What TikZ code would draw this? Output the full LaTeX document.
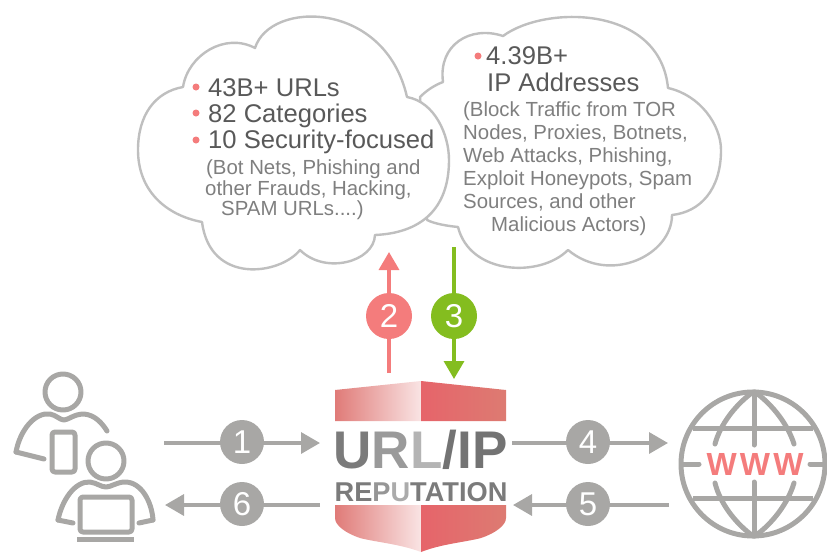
\documentclass[tikz,border=0pt]{standalone}
\usepackage{fontspec}
\setmainfont{Liberation Sans}
\newfontfamily\wwwfont[LetterSpace=10]{Liberation Sans}
\usetikzlibrary{arrows.meta}
\definecolor{cloudline}{HTML}{BFBFBF}
\definecolor{maintxt}{HTML}{595959}
\definecolor{subtxt}{HTML}{7F7F7F}
\definecolor{coral}{HTML}{F47C7C}
\definecolor{leaf}{HTML}{84BD1F}
\definecolor{stone}{HTML}{A8A7A5}
\definecolor{shA}{HTML}{E07B78}
\definecolor{shB}{HTML}{F9E4E4}
\definecolor{shC}{HTML}{E6646A}
\definecolor{shD}{HTML}{DD7B72}
\tikzset{
  cloudshape/.style={draw=cloudline,line width=2.4pt,fill=white,line join=round},
  headtxt/.style={anchor=base west,inner sep=0pt,text=maintxt,font=\fontsize{25.6}{26}\selectfont},
  subline/.style={anchor=base west,inner sep=0pt,text=subtxt,font=\fontsize{20.4}{22}\selectfont},
  bulletdot/.style={circle,fill=coral,inner sep=0pt,minimum size=7pt},
  numdot/.style={circle,inner sep=0pt,text=white,font=\fontsize{33}{34}\selectfont},
  graydot/.style={numdot,fill=stone,minimum size=44pt},
  upflow/.style={draw=coral,line width=3.4pt,-{Triangle[width=20pt,length=18pt]}},
  downflow/.style={draw=leaf,line width=3.4pt,-{Triangle[width=20pt,length=18pt]}},
  sideflow/.style={draw=stone,line width=3.4pt,-{Triangle[width=21pt,length=19pt]}},
  icon/.style={draw=stone,line width=5pt,line cap=round,line join=round},
}
\begin{document}
\begin{tikzpicture}[x=1pt,y=-1pt]
\useasboundingbox (0,0) rectangle (827,552);
% clouds
\draw[cloudshape] (420,97) .. controls (427,90) and (435,85) .. (443,82)
  .. controls (438,45) and (470,25) .. (503,36)
  .. controls (545,5) and (660,5) .. (668,88)
  .. controls (700,95) and (721,125) .. (721,150)
  .. controls (721,190) and (700,212) .. (672,215)
  .. controls (672,255) and (610,285) .. (568,250)
  .. controls (540,278) and (470,275) .. (458,227)
  .. controls (448,226) and (435,224) .. (427,220) -- cycle;
\draw[cloudshape] (183,87) .. controls (188,55) and (225,32) .. (255,48)
  .. controls (270,0) and (385,0) .. (407,97)
  .. controls (435,102) and (449,135) .. (449,160)
  .. controls (449,210) and (420,233) .. (375,235)
  .. controls (374,262) and (325,275) .. (300,250)
  .. controls (280,275) and (210,285) .. (202,222)
  .. controls (165,215) and (138,190) .. (138,150)
  .. controls (138,115) and (155,92) .. (183,87) -- cycle;
% left cloud text
\node[bulletdot] (b1) at (196,87) {};
\node[bulletdot] (b2) at (196,113) {};
\node[bulletdot] (b3) at (196,140) {};
\node[headtxt] (t1) at (208,96) {43B+ URLs};
\node[headtxt] (t2) at (208,122) {82 Categories};
\node[headtxt] (t3) at (208,148) {10 Security-focused};
\node[subline] (t4) at (206,174) {(Bot Nets, Phishing and};
\node[subline] (t5) at (205,195) {other Frauds, Hacking,};
\node[subline] (t6) at (221,215) {SPAM URLs....)};
% right cloud text
\node[bulletdot] (b4) at (478,56) {};
\node[headtxt] (r1) at (486,64) {4.39B+};
\node[headtxt] (r2) at (487,91) {IP Addresses};
\node[subline] (r3) at (463,116) {(Block Traffic from TOR};
\node[subline] (r4) at (463,139) {Nodes, Proxies, Botnets,};
\node[subline] (r5) at (463,162) {Web Attacks, Phishing,};
\node[subline] (r6) at (463,185) {Exploit Honeypots, Spam};
\node[subline] (r7) at (463,208) {Sources, and other};
\node[subline] (r8) at (491,231) {Malicious Actors)};
% flow ends
\coordinate (s2) at (389,373); \coordinate (e2) at (389,252);
\coordinate (s3) at (454,247); \coordinate (e3) at (454,379);
\coordinate (s1) at (164,443); \coordinate (e1) at (320,443);
\coordinate (s6) at (320,505); \coordinate (e6) at (165,505);
\coordinate (s4) at (512,443); \coordinate (e4) at (668,443);
\coordinate (s5) at (669,505); \coordinate (e5) at (513,505);
\draw[upflow] (s2) -- (e2);
\draw[downflow] (s3) -- (e3);
\draw[sideflow] (s1) -- (e1);
\draw[sideflow] (s6) -- (e6);
\draw[sideflow] (s4) -- (e4);
\draw[sideflow] (s5) -- (e5);
\node[numdot,fill=coral,minimum size=46pt] (n2) at (389,316) {2};
\node[numdot,fill=leaf,minimum size=46pt] (n3) at (454,316) {3};
\node[graydot] (n1) at (242,442) {1};
\node[graydot] (n6) at (242,504) {6};
\node[graydot] (n4) at (588,442) {4};
\node[graydot] (n5) at (588,504) {5};
% shield
\shade[left color=shA,right color=shB] (335,390) -- (421,381) -- (421,421) -- (335,421) -- cycle;
\shade[left color=shC,right color=shD] (421,381) -- (506,390) -- (506,421) -- (421,421) -- cycle;
\shade[left color=shA,right color=shB] (335,505) -- (421,505) -- (421,552) .. controls (400,544) and (375,542) .. (360,538) .. controls (345,533) and (335,525) .. (335,518) -- cycle;
\shade[left color=shC,right color=shD] (421,505) -- (506,505) -- (506,518) .. controls (506,525) and (496,533) .. (481,538) .. controls (466,542) and (441,544) .. (421,552) -- cycle;
\node[anchor=base,inner sep=0pt,font=\fontsize{53}{54}\selectfont\bfseries] (urlip) at (420.5,468)
  {\textcolor[HTML]{7B7B7B}{U}\textcolor[HTML]{9A9A9A}{R}\textcolor[HTML]{B4B4B4}{L}\textcolor[HTML]{737373}{/IP}};
\node[anchor=base,inner sep=0pt,font=\fontsize{27.2}{28}\selectfont\bfseries] (rep) at (421,501)
  {\textcolor[HTML]{7B7B7B}{RE}\textcolor[HTML]{969696}{P}\textcolor[HTML]{ABABAB}{U}\textcolor[HTML]{7B7B7B}{TATION}};
% people icon
\draw[icon] (63,392) circle (18);
\draw[icon] (16,452) .. controls (20,430) and (35,412) .. (50,414) .. controls (56,415) and (60,420) .. (64,420) .. controls (68,420) and (74,414) .. (84,414) .. controls (95,415) and (102,423) .. (107,431);
\draw[icon] (16,452) -- (44,459);
\draw[icon,rounded corners=3pt] (52,432) rectangle (75,472);
\draw[icon] (106,461) circle (18);
\draw[icon] (58,520) .. controls (62,500) and (75,481) .. (90,482) .. controls (97,483) and (101,487) .. (106,487) .. controls (111,487) and (117,482) .. (125,482) .. controls (142,482) and (152,503) .. (153,520);
\draw[icon] (58,520) -- (73,523);
\draw[icon] (153,520) -- (139,523);
\draw[icon,rounded corners=3pt] (80,497) rectangle (132,532);
\draw[icon,line cap=butt] (77,539) -- (134,539);
% globe
\draw[icon] (753,464) circle (72);
\draw[icon,line cap=butt] (693,428) -- (813,428);
\draw[icon,line cap=butt] (693,498) -- (813,498);
\draw[icon] (682,464) -- (699,464);
\draw[icon] (810,464) -- (825,464);
\draw[icon] (754,392) -- (754,445);
\draw[icon] (754,482) -- (754,536);
\draw[icon] (753,392) .. controls (735,405) and (720,425) .. (715,444);
\draw[icon] (715,483) .. controls (720,503) and (735,523) .. (753,536);
\draw[icon] (755,392) .. controls (773,405) and (788,425) .. (794,444);
\draw[icon] (794,483) .. controls (788,503) and (773,523) .. (755,536);
\node[anchor=center,inner sep=0pt,text=coral,font=\wwwfont\bfseries\fontsize{32}{32}\selectfont] (www) at (755,464) {WWW};
\end{tikzpicture}
\end{document}
